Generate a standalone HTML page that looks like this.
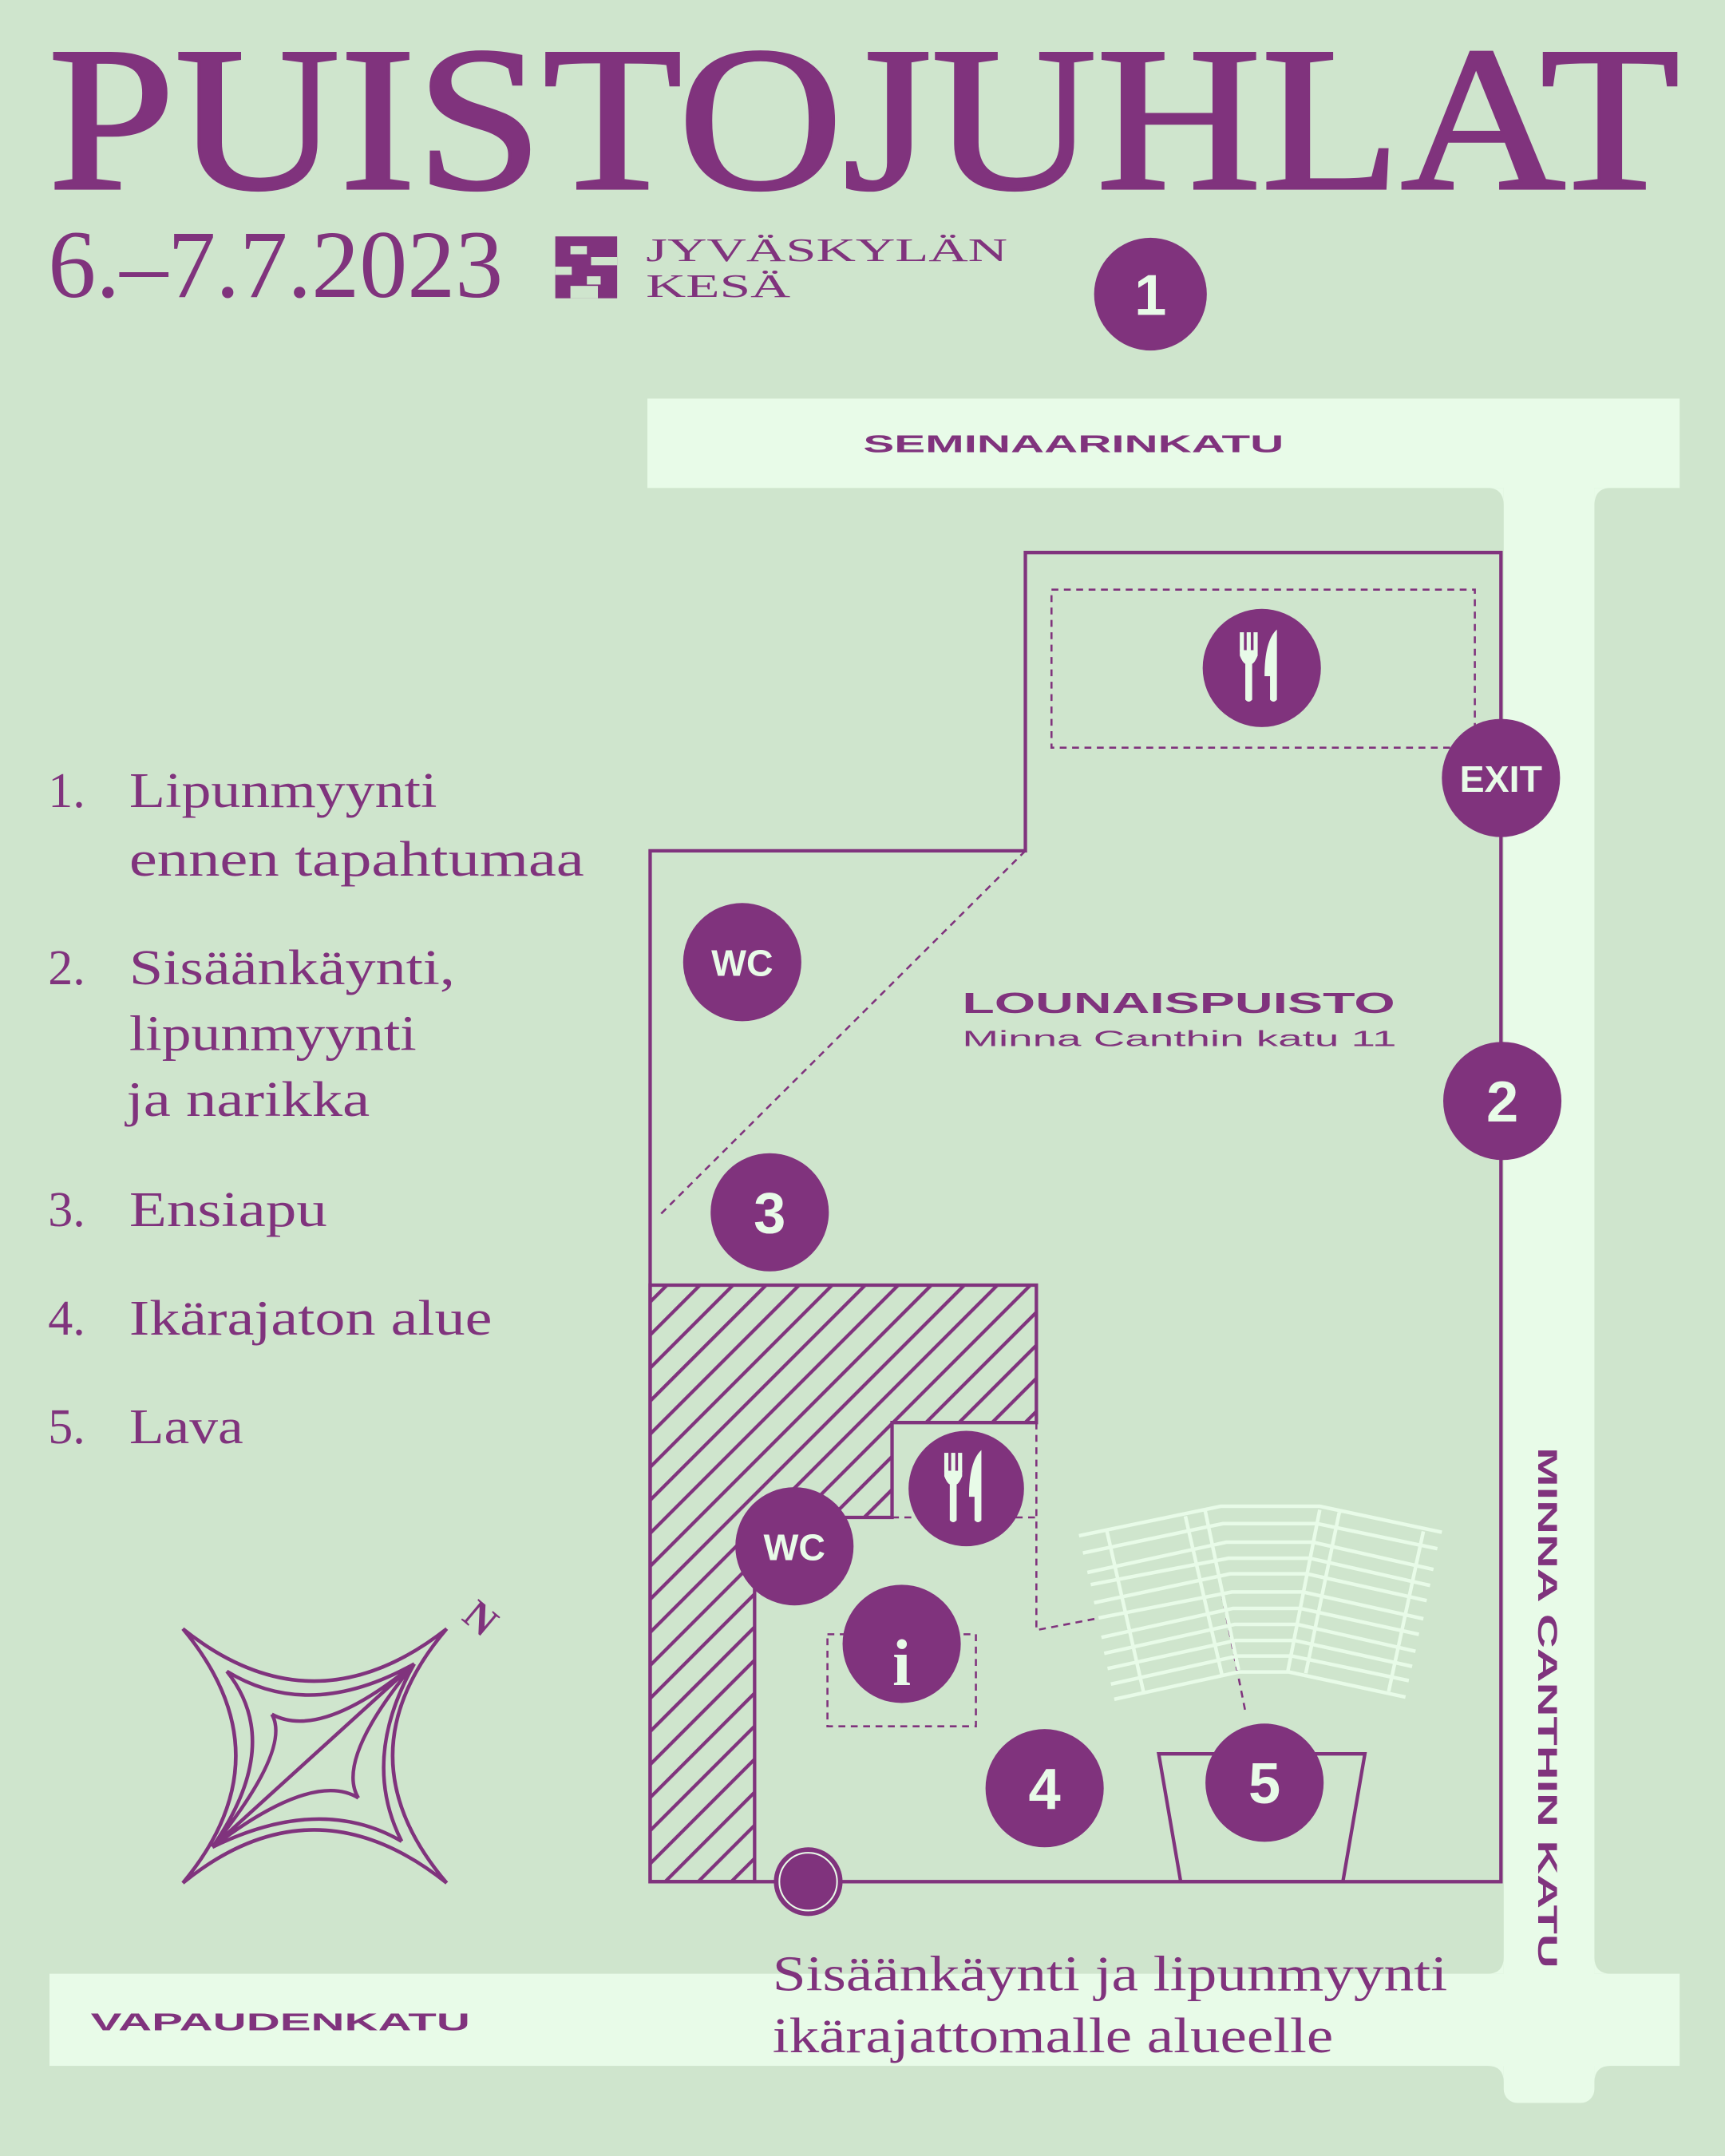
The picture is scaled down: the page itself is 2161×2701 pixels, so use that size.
<!DOCTYPE html>
<html><head><meta charset="utf-8"><style>
html,body{margin:0;padding:0;background:#cfe5cd}
svg{display:block}
.s{font-family:"Liberation Serif",serif;fill:#80337d}
.a{font-family:"Liberation Sans",sans-serif}
</style></head><body>
<svg width="2161" height="2701" viewBox="0 0 1255 1568.6" xmlns="http://www.w3.org/2000/svg">
<defs>
<pattern id="h" patternUnits="userSpaceOnUse" width="17" height="17" patternTransform="rotate(45)">
<rect width="17" height="17" fill="#cfe5cd"/>
<line x1="0" y1="0" x2="0" y2="17" stroke="#80337d" stroke-width="5"/>
</pattern>
</defs>
<rect width="1255" height="1569" fill="#cfe5cd"/>

<!-- title -->
<text class="s" x="35" y="137" font-size="150" stroke="#80337d" stroke-width="2" textLength="1187" lengthAdjust="spacingAndGlyphs">PUISTOJUHLAT</text>
<text class="s" x="35" y="216" font-size="70" textLength="331" lengthAdjust="spacingAndGlyphs">6.–7.7.2023</text>
<!-- logo -->
<g fill="#80337d">
<rect x="404" y="172" width="45" height="45"/>
<rect x="415" y="179" width="12" height="6" fill="#cfe5cd"/>
<rect x="430" y="187" width="19" height="6" fill="#cfe5cd"/>
<rect x="404" y="194" width="12" height="6" fill="#cfe5cd"/>
<rect x="427" y="201" width="10" height="6" fill="#cfe5cd"/>
<rect x="415" y="208" width="20" height="9" fill="#cfe5cd"/>
</g>
<text class="s" x="470" y="190" font-size="24" textLength="263" lengthAdjust="spacingAndGlyphs">JYVÄSKYLÄN</text>
<text class="s" x="470" y="216" font-size="24" textLength="105" lengthAdjust="spacingAndGlyphs">KESÄ</text>

<!-- roads -->
<g fill="#e8fbe8">
<rect x="471" y="290" width="751" height="65"/>
<rect x="1094" y="340" width="66" height="1190" rx="10"/>
<rect x="36" y="1436" width="1186" height="67"/>
<path d="M1082,355 Q1094,355 1094,368 L1094,355Z M1172,355 Q1160,355 1160,368 L1160,355Z M1082,1436 Q1094,1436 1094,1424 L1094,1436Z M1172,1436 Q1160,1436 1160,1424 L1160,1436Z M1082,1503 Q1094,1503 1094,1515 L1094,1503Z M1172,1503 Q1160,1503 1160,1515 L1160,1503Z"/>
</g>
<text class="a" x="628" y="329" font-size="18" font-weight="bold" fill="#80337d" textLength="306" lengthAdjust="spacingAndGlyphs">SEMINAARINKATU</text>
<text class="a" x="66" y="1477" font-size="18" font-weight="bold" fill="#80337d" textLength="276" lengthAdjust="spacingAndGlyphs">VAPAUDENKATU</text>
<text class="a" transform="translate(1119,1053) rotate(90)" font-size="20" font-weight="bold" fill="#80337d" textLength="379" lengthAdjust="spacingAndGlyphs">MINNA CANTHIN KATU</text>

<!-- hatched area -->
<path d="M473,935 L754,935 L754,1035 L649,1035 L649,1104 L549,1104 L549,1369 L473,1369Z" fill="url(#h)" stroke="#80337d" stroke-width="2.5"/>

<!-- park outline -->
<path d="M746,619 L746,402 L1092,402 L1092,1369 L473,1369 L473,619 Z" fill="none" stroke="#80337d" stroke-width="2.5"/>
<g fill="none" stroke="#80337d" stroke-width="1.5" stroke-dasharray="5,4">
<rect x="765" y="429" width="308" height="115"/>
<line x1="746" y1="619" x2="480" y2="884"/>
<path d="M649,1104 L754,1104 M754,1035 L754,1186 L889,1160 L906,1245"/>
<rect x="602" y="1189" width="108" height="67"/>
</g>

<!-- seating -->
<g transform="translate(452.97,900.1) scale(0.4074,0.3148)" fill="none" stroke="#e8fbe8">
<path vector-effect="non-scaling-stroke" stroke-width="4.5" d="M815,690 L1068,622 L1245,622 L1463,682
M822,730 L1072,662 L1240,662 L1455,720
M830,775 L1078,705 L1233,705 L1448,768
M836,803 L1082,742 L1227,742 L1442,805
M842,845 L1085,778 L1222,778 L1436,840
M850,880 L1088,820 L1215,820 L1430,882
M855,925 L1090,858 L1210,858 L1422,918
M860,962 L1093,895 L1205,895 L1416,957
M866,997 L1095,932 L1200,932 L1410,992
M872,1033 L1098,968 L1195,968 L1404,1025
M878,1068 L1100,1005 L1190,1005 L1398,1063
M865,680 L930,1050 M1005,645 L1070,1010 M1040,630 L1100,1000 M1245,630 L1188,1003 M1280,635 L1220,1008 M1430,680 L1368,1050"/>
</g>

<!-- stage -->
<path d="M843,1276 L993,1276 L977,1369 L859,1369Z" fill="none" stroke="#80337d" stroke-width="2.5"/>

<!-- circles -->
<g fill="#80337d">
<circle cx="837" cy="214" r="41"/>
<circle cx="918" cy="486" r="43"/>
<circle cx="1092" cy="566" r="43"/>
<circle cx="540" cy="700" r="43"/>
<circle cx="1093" cy="801" r="43"/>
<circle cx="560" cy="882" r="43"/>
<circle cx="703" cy="1083" r="42"/>
<circle cx="578" cy="1125" r="43"/>
<circle cx="656" cy="1196" r="43"/>
<circle cx="760" cy="1301" r="43"/>
<circle cx="920" cy="1297" r="43"/>
<circle cx="588" cy="1369" r="25"/>
</g>
<circle cx="588" cy="1369" r="21" fill="none" stroke="#e8fbe8" stroke-width="1.2"/>
<g class="a" fill="#e8fbe8" font-weight="bold" text-anchor="middle">
<text x="837" y="229" font-size="42">1</text>
<text x="1093" y="816" font-size="42">2</text>
<text x="560" y="897" font-size="42">3</text>
<text x="760" y="1316" font-size="42">4</text>
<text x="920" y="1312" font-size="42">5</text>
<text x="540" y="710" font-size="27">WC</text>
<text x="578" y="1135" font-size="27">WC</text>
<text x="1092" y="576" font-size="27">EXIT</text>
<text x="656" y="1226" font-size="48" font-family="Liberation Serif,serif" font-weight="bold">i</text>
</g>
<!-- fork & knife icons -->
<g fill="#e8fbe8">
<g transform="translate(918,486)">
<rect x="-16" y="-26" width="3" height="14"/><rect x="-11" y="-26" width="3" height="14"/><rect x="-6" y="-26" width="3" height="14"/>
<path d="M-16,-13 L-3,-13 L-3,-9 Q-5,-4 -7,-3 L-7,23 Q-9.5,26 -12,23 L-12,-3 Q-14,-4 -16,-9Z"/>
<path d="M11,-28 L11,23 Q8.5,26 6,23 L6,6 L2,6 Q2,-20 11,-28Z"/>
</g>
<g transform="translate(703,1083)">
<rect x="-16" y="-26" width="3" height="14"/><rect x="-11" y="-26" width="3" height="14"/><rect x="-6" y="-26" width="3" height="14"/>
<path d="M-16,-13 L-3,-13 L-3,-9 Q-5,-4 -7,-3 L-7,23 Q-9.5,26 -12,23 L-12,-3 Q-14,-4 -16,-9Z"/>
<path d="M11,-28 L11,23 Q8.5,26 6,23 L6,6 L2,6 Q2,-20 11,-28Z"/>
</g>
</g>

<!-- park labels -->
<text class="a" x="700" y="737" font-size="21" font-weight="bold" fill="#80337d" textLength="315" lengthAdjust="spacingAndGlyphs">LOUNAISPUISTO</text>
<text class="a" x="700" y="761" font-size="16" fill="#80337d" textLength="316" lengthAdjust="spacingAndGlyphs">Minna Canthin katu 11</text>

<!-- legend -->
<g class="s" font-size="36">
<text x="35" y="587">1.</text>
<text x="94" y="587" textLength="224" lengthAdjust="spacingAndGlyphs">Lipunmyynti</text>
<text x="94" y="637" textLength="331" lengthAdjust="spacingAndGlyphs">ennen tapahtumaa</text>
<text x="35" y="716">2.</text>
<text x="94" y="716" textLength="237" lengthAdjust="spacingAndGlyphs">Sisäänkäynti,</text>
<text x="94" y="764" textLength="209" lengthAdjust="spacingAndGlyphs">lipunmyynti</text>
<text x="92" y="812" textLength="177" lengthAdjust="spacingAndGlyphs">ja narikka</text>
<text x="35" y="892">3.</text>
<text x="94" y="892" textLength="144" lengthAdjust="spacingAndGlyphs">Ensiapu</text>
<text x="35" y="971">4.</text>
<text x="94" y="971" textLength="264" lengthAdjust="spacingAndGlyphs">Ikärajaton alue</text>
<text x="35" y="1050">5.</text>
<text x="94" y="1050" textLength="83" lengthAdjust="spacingAndGlyphs">Lava</text>
</g>
<text class="s" x="562" y="1448" font-size="36" textLength="491" lengthAdjust="spacingAndGlyphs">Sisäänkäynti ja lipunmyynti</text>
<text class="s" x="562" y="1493" font-size="36" textLength="408" lengthAdjust="spacingAndGlyphs">ikärajattomalle alueelle</text>

<!-- compass -->
<g transform="translate(-2.87,1133.2) scale(0.2623,0.1933)" fill="none" stroke="#80337d">
<path vector-effect="non-scaling-stroke" stroke-width="4.5" d="M518,268 Q880,662 1250,268 M1250,268 Q950,746 1250,1225 M518,1225 Q880,825 1250,1225 M518,268 Q812,746 518,1225
M1160,400 Q870,620 640,428 M640,428 Q800,700 600,1090
M1160,400 Q900,690 765,590 M765,590 Q820,720 600,1090
M1160,400 L600,1090
M600,1090 Q880,800 1005,905 M1005,905 Q940,760 1160,400
M600,1090 Q900,890 1125,1068 M1125,1068 Q1010,760 1160,400"/>
</g>
<text class="s" x="0" y="0" font-size="30" font-weight="bold" transform="translate(335,1178) rotate(40)">N</text>
</svg>
</body></html>
